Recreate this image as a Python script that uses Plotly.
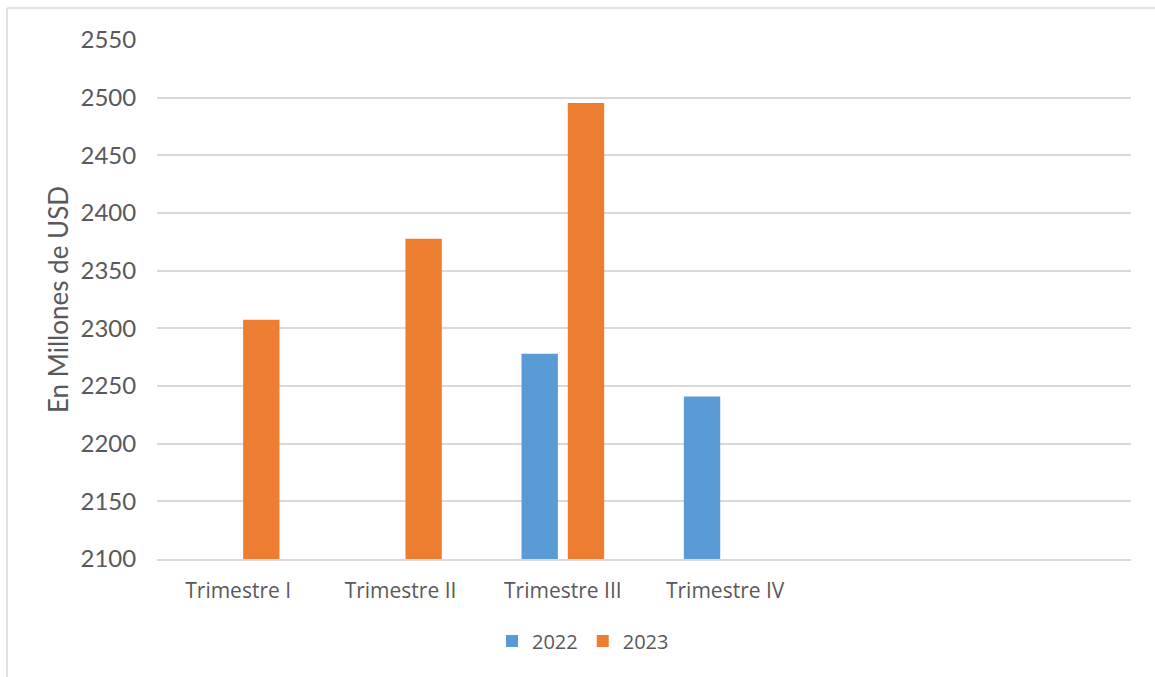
import plotly.graph_objects as go

# Quarterly values, millions of USD
quarters = ["Trimestre I", "Trimestre II", "Trimestre III", "Trimestre IV"]
values_2022 = [None, None, 2278, 2241]
values_2023 = [2307.5, 2377.7, 2495.4, None]

blue = "#5B9BD5"
orange = "#ED7D31"
text_gray = "#595959"
grid_gray = "#D9D9D9"

W, H = 1155, 677
left, right, top, bottom = 157, 1131, 40, 559
pw, ph = right - left, bottom - top


def px_x(px):
    return (px - left) / pw


def px_y(py):
    return (bottom - py) / ph


fig = go.Figure()
fig.add_trace(go.Bar(name="2022", x=quarters, y=values_2022, marker_color=blue,
                     marker_line_width=0))
fig.add_trace(go.Bar(name="2023", x=quarters, y=values_2023, marker_color=orange,
                     marker_line_width=0))

# outer frame of the chart area (top and left edges)
fig.add_shape(type="line", xref="paper", yref="paper",
              x0=px_x(7), x1=px_x(1160), y0=px_y(8), y1=px_y(8),
              line=dict(color=grid_gray, width=1.5))
fig.add_shape(type="line", xref="paper", yref="paper",
              x0=px_x(7), x1=px_x(7), y0=px_y(8), y1=px_y(690),
              line=dict(color=grid_gray, width=1.5))

fig.update_layout(
    width=W, height=H,
    margin=dict(l=left, r=W - right, t=top, b=H - bottom, autoexpand=False),
    paper_bgcolor="white", plot_bgcolor="white",
    barmode="group", bargap=0.43, bargroupgap=0.214,
    showlegend=True,
    legend=dict(orientation="h", x=px_x(583), xanchor="center",
                y=px_y(641), yanchor="middle",
                font=dict(family="Open Sans", size=20, color=text_gray),
                itemwidth=30, traceorder="normal"),
    xaxis=dict(type="category", range=[-0.5, 5.5], showgrid=False,
               showline=True, linecolor=grid_gray, linewidth=1.5,
               ticks="outside", ticklen=12, tickcolor="rgba(0,0,0,0)",
               tickfont=dict(family="Open Sans", size=21, color=text_gray),
               automargin=False),
    yaxis=dict(range=[2100, 2550], dtick=50, tick0=2100,
               showgrid=True, gridcolor=grid_gray, gridwidth=1.5,
               zeroline=False, showline=False,
               ticks="outside", ticklen=15, tickcolor="rgba(0,0,0,0)",
               tickfont=dict(family="Lato", size=24, color=text_gray),
               title=dict(text="En Millones de USD", standoff=4,
                          font=dict(family="Lato", size=26, color=text_gray)),
               automargin=False),
)

fig.write_html("out.html")
